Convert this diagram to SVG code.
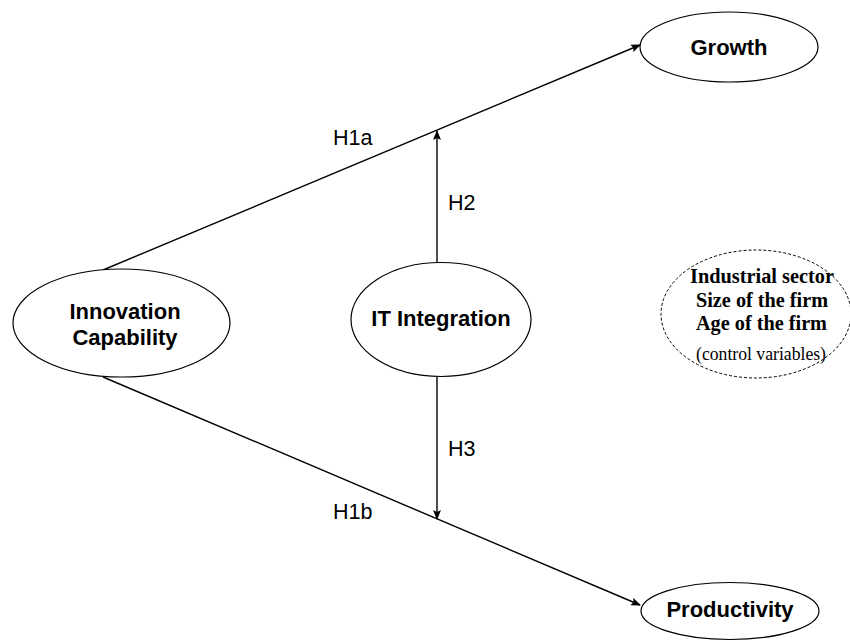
<svg xmlns="http://www.w3.org/2000/svg" width="850" height="642" viewBox="0 0 850 642">
<defs>
<marker id="arr" markerWidth="10" markerHeight="8" refX="9" refY="4" orient="auto" markerUnits="userSpaceOnUse">
<path d="M0,0 L10,4 L0,8 L2,4 Z" fill="#000"/>
</marker>
<style>
.node{fill:#fff;stroke:#000;stroke-width:1.2}
.dash{fill:#fff;stroke:#000;stroke-width:1;stroke-dasharray:3,2}
.lbl{font-family:"Liberation Sans",Arial,sans-serif;font-weight:bold;font-size:22px;text-anchor:middle;fill:#000}
.h{font-family:"Liberation Sans",Arial,sans-serif;font-size:21.5px;fill:#000}
.ctl{font-family:"Liberation Serif","Times New Roman",serif;font-weight:bold;font-size:20px;text-anchor:middle;fill:#000}
.ctl2{font-family:"Liberation Serif","Times New Roman",serif;font-size:18px;text-anchor:middle;fill:#000}
.edge{stroke:#000;stroke-width:1.4;fill:none}
</style>
</defs>
<rect width="850" height="642" fill="#fff"/>
<g id="connectors">
<line class="edge" x1="103" y1="270" x2="640" y2="45" marker-end="url(#arr)"/>
<line class="edge" x1="103" y1="377" x2="640" y2="605" marker-end="url(#arr)"/>
<line class="edge" x1="437" y1="263" x2="437" y2="131" marker-end="url(#arr)"/>
<line class="edge" x1="437" y1="377" x2="437" y2="519" marker-end="url(#arr)"/>
<text class="h" x="333" y="145">H1a</text>
<text class="h" x="448" y="210">H2</text>
<text class="h" x="448" y="456">H3</text>
<text class="h" x="333" y="519">H1b</text>
</g>
<g id="innovation">
<ellipse class="node" cx="121.5" cy="323" rx="108.5" ry="54"/>
<text class="lbl" x="125" y="319">Innovation</text>
<text class="lbl" x="125" y="345">Capability</text>
</g>
<g id="it">
<ellipse class="node" cx="441" cy="319.5" rx="90" ry="57"/>
<text class="lbl" x="441" y="326">IT Integration</text>
</g>
<g id="growth">
<ellipse class="node" cx="729" cy="47" rx="89" ry="35"/>
<text class="lbl" x="729" y="55">Growth</text>
</g>
<g id="productivity">
<ellipse class="node" cx="730" cy="611" rx="89" ry="28.5"/>
<text class="lbl" x="730" y="617">Productivity</text>
</g>
<g id="controls">
<ellipse class="dash" cx="756" cy="314" rx="95" ry="64"/>
<text class="ctl" x="762" y="283" textLength="144" lengthAdjust="spacingAndGlyphs">Industrial sector</text>
<text class="ctl" x="762" y="306.5" textLength="132" lengthAdjust="spacingAndGlyphs">Size of the firm</text>
<text class="ctl" x="761.5" y="330" textLength="131" lengthAdjust="spacingAndGlyphs">Age of the firm</text>
<text class="ctl2" x="761" y="360" textLength="130" lengthAdjust="spacingAndGlyphs">(control variables)</text>
</g>
</svg>
